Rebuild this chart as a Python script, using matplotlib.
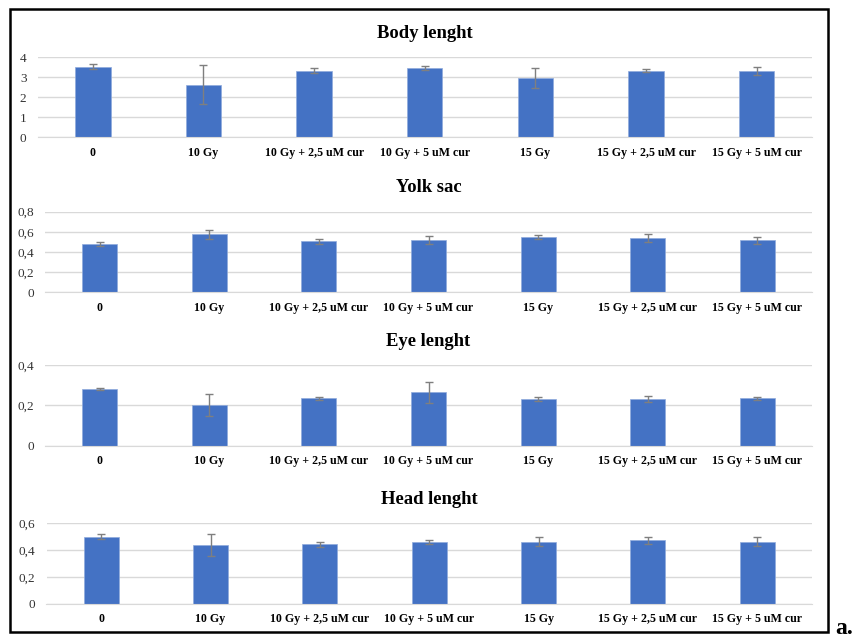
import numpy as np
import matplotlib
matplotlib.use("Agg")
import matplotlib.pyplot as plt
from matplotlib.patches import Rectangle
from matplotlib.ticker import FuncFormatter

groups = ["0", "10 Gy", "10 Gy + 2,5 uM cur", "10 Gy + 5 uM cur",
          "15 Gy", "15 Gy + 2,5 uM cur", "15 Gy + 5 uM cur"]

body = [3.54, 2.64, 3.34, 3.49, 2.96, 3.33, 3.31]
body_err = [0.12, 0.99, 0.11, 0.10, 0.50, 0.08, 0.19]

yolk = [0.48, 0.578, 0.505, 0.518, 0.55, 0.54, 0.515]
yolk_err = [0.022, 0.045, 0.022, 0.038, 0.02, 0.04, 0.032]

eye = [0.283, 0.202, 0.235, 0.264, 0.232, 0.232, 0.235]
eye_err = [0.005, 0.056, 0.007, 0.051, 0.01, 0.013, 0.007]

head = [0.50, 0.438, 0.443, 0.458, 0.462, 0.472, 0.462]
head_err = [0.017, 0.08, 0.017, 0.015, 0.035, 0.027, 0.033]

titles = ["Body lenght", "Yolk sac", "Eye lenght", "Head lenght"]
series = [(body, body_err), (yolk, yolk_err), (eye, eye_err), (head, head_err)]
yticks = [[0, 1, 2, 3, 4], [0, 0.2, 0.4, 0.6, 0.8], [0, 0.2, 0.4], [0, 0.2, 0.4, 0.6]]

# axes boxes in pixels: left, right, top, bottom (origin top-left)
boxes = [(37.5, 812, 57.3, 137.3), (45, 812, 211.7, 292.3),
         (45, 812, 365, 445.7), (46.5, 812, 523.3, 603.7)]

W, H = 857, 639
fig = plt.figure(figsize=(W / 100, H / 100), dpi=100)
plt.rcParams["font.family"] = ["Liberation Serif", "DejaVu Serif"]

blue = "#4472C4"
grid_c = "#D9D9D9"


def comma(v, pos):
    s = ("%g" % v).replace(".", ",")
    return s


x = np.arange(len(groups))
for (vals, errs), title, ticks, (l, r, t, b) in zip(series, titles, yticks, boxes):
    ax = fig.add_axes([l / W, 1 - b / H, (r - l) / W, (b - t) / H])
    ax.bar(x, vals, width=0.32, color=blue, edgecolor="#8FAADC", linewidth=0.5, zorder=2)
    ax.errorbar(x, vals, yerr=errs, fmt="none", ecolor="#7F7F7F", elinewidth=1,
                capsize=3, capthick=1, zorder=3)
    ax.set_xlim(-0.5, len(groups) - 0.5)
    ax.set_ylim(0, ticks[-1])
    ax.set_yticks(ticks)
    ax.yaxis.set_major_formatter(FuncFormatter(comma))
    ax.set_xticks(x)
    ax.set_xticklabels(groups, fontweight="bold", fontsize=8.6)
    ax.tick_params(axis="y", length=0, pad=8, labelsize=9.5, labelcolor="#333333")
    ax.tick_params(axis="x", length=0, pad=7)
    ax.grid(axis="y", color=grid_c, linewidth=1, zorder=0)
    ax.set_axisbelow(True)
    for s in ["top", "right", "left"]:
        ax.spines[s].set_visible(False)
    ax.spines["bottom"].set_color(grid_c)
    ax.set_title(title, fontsize=13.4, fontweight="bold", pad=14)

# outer frame
fig.patches.append(Rectangle((10 / W, 1 - 632 / H), (828 - 10) / W, (632 - 9) / H,
                             transform=fig.transFigure, fill=False,
                             edgecolor="black", linewidth=1.8))
fig.text(835 / W, 1 - 634 / H, "a.", fontsize=17, fontweight="bold",
         ha="left", va="baseline")

fig.savefig("out.png", dpi=100)
